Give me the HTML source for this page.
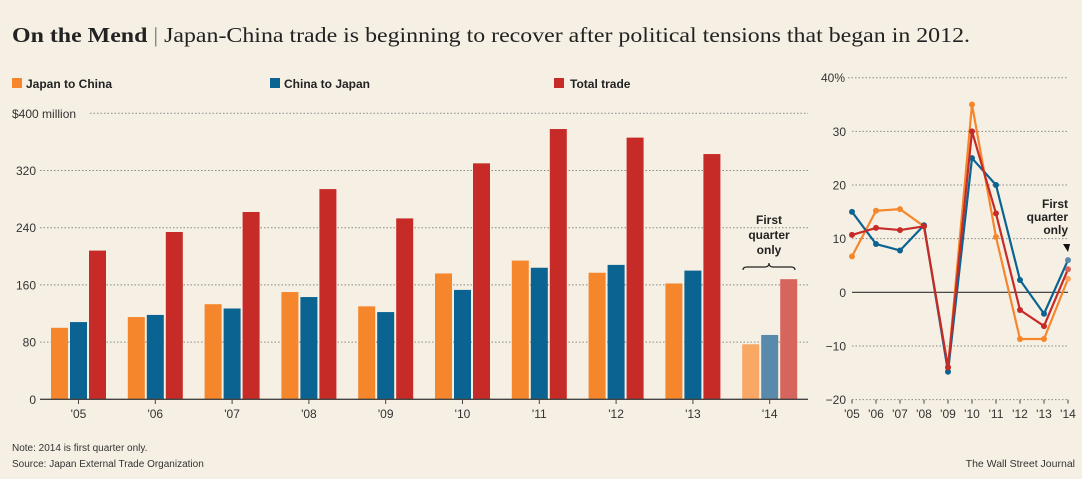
<!DOCTYPE html>
<html><head><meta charset="utf-8">
<style>
html,body{margin:0;padding:0;background:#f6f0e4;}
svg{display:block;font-family:"Liberation Sans",sans-serif;}
</style></head>
<body>
<svg id="c" width="1082" height="479" viewBox="0 0 1082 479">
<rect width="1082" height="479" fill="#f6f0e4"/>
<text x="12" y="42" font-family="Liberation Serif,serif" font-size="21" fill="#222" textLength="958" lengthAdjust="spacingAndGlyphs"><tspan font-weight="bold">On the Mend</tspan><tspan fill="#777"> | </tspan>Japan-China trade is beginning to recover after political tensions that began in 2012.</text>
<g>
<rect x="12" y="78" width="10" height="10" fill="#f5862b"/>
<text x="26" y="88" font-size="12" font-weight="bold" fill="#222">Japan to China</text>
<rect x="270" y="78" width="10" height="10" fill="#0b6391"/>
<text x="284" y="88" font-size="12" font-weight="bold" fill="#222">China to Japan</text>
<rect x="554" y="78" width="10" height="10" fill="#c72b28"/>
<text x="570" y="88" font-size="12" font-weight="bold" fill="#222">Total trade</text>
</g>
<g id="bars"></g>
<g id="lines"></g>
<text x="12" y="451" font-size="10" fill="#333">Note: 2014 is first quarter only.</text>
<text x="12" y="467" font-size="10" fill="#333">Source: Japan External Trade Organization</text>
<text x="1075" y="467" font-size="10.5" fill="#333" text-anchor="end">The Wall Street Journal</text>
</svg>
<script>
const years = ["'05","'06","'07","'08","'09","'10","'11","'12","'13","'14"];
const japanToChina = [100,115,133,150,130,176,194,177,162,77];
const chinaToJapan = [108,118,127,143,122,153,184,188,180,90];
const totalTrade = [208,234,262,294,253,330,378,366,343,168];
const barTicks = [0,80,160,240,320,400];
const pctJapanToChina = [6.7,15.2,15.5,12.3,-14,35,10.3,-8.7,-8.7,2.5];
const pctChinaToJapan = [15,9,7.8,12.5,-14.8,25,20,2.3,-4,6];
const pctTotal = [10.7,12,11.6,12.3,-14,30,14.7,-3.3,-6.3,4.3];
const pctTicks = [-20,-10,0,10,20,30,40];

const NS="http://www.w3.org/2000/svg";
function mk(tag,attrs,parent,txt){const e=document.createElementNS(NS,tag);for(const k in attrs)e.setAttribute(k,attrs[k]);if(txt!==undefined)e.textContent=txt;parent.appendChild(e);return e;}
const COL=["#f5862b","#0b6391","#c72b28"], COL14=["#f8a765","#5a8aab","#d6655d"];

// bar chart
const bg=document.getElementById('bars');
const by=v=>399.3-v*0.715;
const bx=i=>78.5+i*76.8;
barTicks.forEach(t=>{
  const lbl = t===400?"$400 million":String(t);
  const tx = mk('text',{x:t===400?12:36,y:by(t)+4.5,'font-size':12,fill:'#333','text-anchor':t===400?'start':'end'},bg,lbl);
  
  
  if(t>0){
    const g=mk('line',{x1:t===400?90:40,x2:808,y1:by(t),y2:by(t),stroke:'#888','stroke-width':1,'stroke-dasharray':'1.5,2'},bg);
    
    
  }
});
const series=[japanToChina,chinaToJapan,totalTrade];
years.forEach((y,i)=>{
  series.forEach((s,k)=>{
    const x=bx(i)-27.5+k*19;
    const r=mk('rect',{x:x,y:by(s[i]),width:17,height:by(0)-by(s[i]),fill:i===9?COL14[k]:COL[k]},bg);
    
    
  });
  const tk=mk('line',{x1:bx(i),x2:bx(i),y1:399,y2:404,stroke:'#444'},bg);
  
  
  const lb=mk('text',{x:bx(i),y:418,'font-size':12,fill:'#333','text-anchor':'middle'},bg,y);
  
  
});
const ax=mk('line',{x1:40,x2:808,y1:399.3,y2:399.3,stroke:'#444','stroke-width':1.3},bg);


const an=mk('text',{x:769,y:224,'font-size':12,'font-weight':'bold',fill:'#222','text-anchor':'middle'},bg);


["First","quarter","only"].forEach((w,j)=>mk('tspan',{x:769,dy:j?15:0},an,w));
const br=mk('path',{d:'M743,270 q0,-3 4,-3 h18 q4,0 4,-4 q0,4 4,4 h18 q4,0 4,3',fill:'none',stroke:'#222','stroke-width':1.2},bg);



// line chart
const lg=document.getElementById('lines');
const ly=v=>292.3-v*5.365;
const lx=i=>852+i*24;
pctTicks.forEach(t=>{
  const lb=mk('text',{x:t===40?845:846,y:ly(t)+4.5,'font-size':12,fill:'#333','text-anchor':'end'},lg,t===40?'40%':(t<0?'\u2212'+(-t):String(t)));
  
  
  const g=mk('line',{x1:t===40?848:852,x2:1068,y1:ly(t),y2:ly(t),stroke:t===0?'#333':'#888','stroke-width':t===0?1.2:1,'stroke-dasharray':t===0?'none':'1.5,2'},lg);
  
  
});
years.forEach((y,i)=>{
  const tk=mk('line',{x1:lx(i),x2:lx(i),y1:ly(-20),y2:ly(-20)+4,stroke:'#444'},lg);
  
  
  const lb=mk('text',{x:lx(i),y:418,'font-size':12,fill:'#333','text-anchor':'middle'},lg,y);
  
  
});
[[pctJapanToChina,0],[pctChinaToJapan,1],[pctTotal,2]].forEach(([s,k])=>{
  const nm=['japan-to-china','china-to-japan','total-trade'][k];
  const p=mk('polyline',{points:s.map((v,i)=>lx(i)+','+ly(v)).join(' '),fill:'none',stroke:COL[k],'stroke-width':2.2,'stroke-linejoin':'round'},lg);
  
  
  s.forEach((v,i)=>{
    const c=mk('circle',{cx:lx(i),cy:ly(v),r:3,fill:i===9?COL14[k]:COL[k]},lg);
    
    
  });
});
const an2=mk('text',{x:1068,y:208,'font-size':12,'font-weight':'bold',fill:'#222','text-anchor':'end'},lg);


["First","quarter","only"].forEach((w,j)=>mk('tspan',{x:1068,dy:j?13:0},an2,w));
const ar=mk('path',{d:'M1063,244 L1070,244 L1068,252 Z',fill:'#111'},lg);


</script>
</body></html>
